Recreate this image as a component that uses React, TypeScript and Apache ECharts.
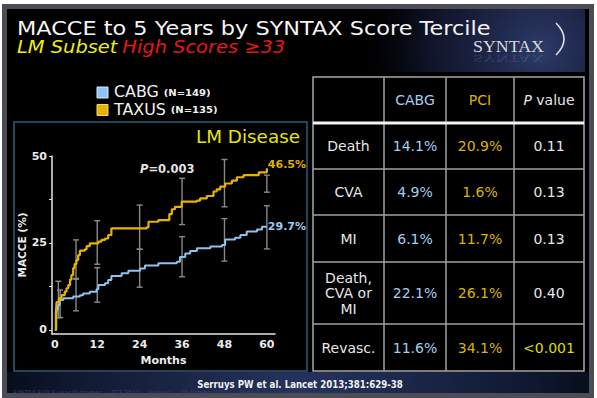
import React, { useEffect, useRef } from 'react';
import * as echarts from 'echarts';

// ---------- data ----------
const monthTicks = [0, 12, 24, 36, 48, 60];
const yTickValues = [0, 12.5, 25, 37.5, 50];
const yLabelValues = [0, 25, 50];

// Kaplan-Meier style curves: [month, MACCE %]
const taxusCurve = [
  [0, 0], [0.3, 5], [0.5, 8], [1.2, 9.1], [1.9, 10], [2.8, 11], [3.3, 12], [3.8, 12.9],
  [4.3, 14.5], [4.7, 15.8], [5.2, 17.8], [5.6, 19], [6.1, 20.1], [6.6, 21.5], [7.1, 22.8],
  [8.5, 23.2], [9, 24.1], [9.9, 24.9], [12.3, 25.4], [13.2, 25.9], [14.2, 26.3], [15.1, 27.3],
  [16, 29.2], [26, 29.5], [26.5, 31.1], [29.3, 31.6], [32.4, 33.3], [33.1, 34.7], [34, 35.4],
  [35.9, 36.9], [40.2, 37.2], [41.1, 37.8], [43, 38.5], [44.9, 39.8], [45.8, 40.4], [46.8, 41.2],
  [48.2, 42.1], [50.1, 42.9], [51.5, 43.9], [53.4, 44.5], [57.7, 45.3], [60, 46.5]
];
const cabgCurve = [
  [0, 0], [0.4, 4], [0.6, 6], [0.9, 7.2], [1.4, 8.6], [2.4, 9.1], [5.2, 9.6], [7.1, 10],
  [8, 10.5], [9.9, 11], [11.8, 11.7], [12.3, 12.9], [14.2, 13.4], [15.1, 14.4], [16, 15.5],
  [18.9, 16.3], [20.8, 17], [24.1, 17.7], [25.5, 18.5], [29.3, 19.2], [34.5, 19.6], [35.4, 21],
  [36.9, 22], [38.3, 22.7], [40.2, 23.5], [44, 24], [47.3, 24.4], [48.2, 26], [51, 26.5],
  [52.5, 27.3], [54.3, 28.3], [57.2, 28.9], [58.6, 29.7], [60, 29.7]
];
// error bars: [month, low, high]
const taxusErr = [
  [1, 3.5, 14], [6, 14.6, 25.9], [12, 18.9, 31.4], [24, 23.2, 35.9],
  [36, 30.3, 43.6], [48, 35.4, 49], [60, 39.6, 44.5]
];
const cabgErr = [
  [1.5, 3.6, 11.5], [6, 5.5, 14.8], [12, 8, 17.9], [24, 12.3, 23.2],
  [36, 15.3, 26.8], [48, 19.8, 32], [60, 23.3, 35.7]
];
const endLabels = ['46.5%', '29.7%'];
const seriesNames = ['CABG', 'TAXUS'];
const seriesN = ['(N=149)', '(N=135)'];
const pValueText = '0.003';

// table
const tableHeader = ['', 'CABG', 'PCI', 'value'];
const tableRows = ['Death', 'CVA', 'MI', 'Death,\nCVA or\nMI', 'Revasc.'];
const cabgValues = ['14.1%', '4.9%', '6.1%', '22.1%', '11.6%'];
const pciValues = ['20.9%', '1.6%', '11.7%', '26.1%', '34.1%'];
const pValues = ['0.11', '0.13', '0.13', '0.40', '<0.001'];

// ---------- layout / style ----------
const FONT = '"DejaVu Sans", Verdana, sans-serif';
const COND = '"DejaVu Sans Condensed", "DejaVu Sans", sans-serif';
const BLUE = '#8fc2ee';
const GOLD = '#e6b400';
const BLUE_TXT = '#a6cdf0';
const GOLD_TXT = '#dcb400';
const WHITE_TXT = '#e6e6e6';
const colEdges = [313, 384, 446, 514, 584];
const rowEdges = [77, 123, 169, 215, 262, 324, 371];

function txt(x: number, y: number, text: string, o: any = {}) {
  return {
    type: 'text',
    x,
    y,
    scaleX: o.scaleX ?? 1,
    z: 10,
    style: {
      text,
      fill: o.fill ?? WHITE_TXT,
      fontSize: o.fontSize ?? 14,
      fontFamily: o.fontFamily ?? FONT,
      fontWeight: o.fontWeight ?? 'normal',
      fontStyle: o.fontStyle ?? 'normal',
      textAlign: o.align ?? 'left',
      align: o.align ?? 'left',
      textVerticalAlign: 'middle',
      verticalAlign: 'middle',
      lineHeight: o.lineHeight,
      rich: o.rich,
      opacity: o.opacity ?? 1,
    },
  };
}

function buildTable(): any[] {
  const els: any[] = [];
  const x0 = colEdges[0], x1 = colEdges[colEdges.length - 1];
  const y0 = rowEdges[0], y1 = rowEdges[rowEdges.length - 1];
  els.push({ type: 'rect', z: 5, shape: { x: x0, y: y0, width: x1 - x0, height: y1 - y0 }, style: { fill: '#000', stroke: '#a8a8a8', lineWidth: 1.5 } });
  colEdges.slice(1, -1).forEach((cx) => {
    els.push({ type: 'line', z: 6, shape: { x1: cx, y1: y0, x2: cx, y2: y1 }, style: { stroke: '#a0a0a0', lineWidth: 1.5 } });
  });
  rowEdges.slice(2, -1).forEach((ry) => {
    els.push({ type: 'line', z: 6, shape: { x1: x0, y1: ry, x2: x1, y2: ry }, style: { stroke: '#a0a0a0', lineWidth: 1.5 } });
  });
  els.push({ type: 'line', z: 7, shape: { x1: x0, y1: rowEdges[1], x2: x1, y2: rowEdges[1] }, style: { stroke: '#f4f4f4', lineWidth: 3 } });

  const cx = (i: number) => (colEdges[i] + colEdges[i + 1]) / 2;
  const cy = (j: number) => (rowEdges[j] + rowEdges[j + 1]) / 2;
  // header
  els.push(txt(cx(1), cy(0), tableHeader[1], { align: 'center', fill: BLUE_TXT }));
  els.push(txt(cx(2), cy(0), tableHeader[2], { align: 'center', fill: GOLD_TXT }));
  els.push(txt(cx(3), cy(0), '{i|P} {n|' + tableHeader[3] + '}', {
    align: 'center',
    rich: {
      i: { fontStyle: 'italic', fontSize: 14, fontFamily: FONT, fontWeight: 'normal', fill: WHITE_TXT },
      n: { fontStyle: 'normal', fontSize: 14, fontFamily: FONT, fontWeight: 'normal', fill: WHITE_TXT },
    },
  }));
  tableRows.forEach((r, j) => {
    els.push(txt(cx(0), cy(j + 1), r, { align: 'center', lineHeight: 15.5 }));
    els.push(txt(cx(1), cy(j + 1), cabgValues[j], { align: 'center', fill: BLUE_TXT }));
    els.push(txt(cx(2), cy(j + 1), pciValues[j], { align: 'center', fill: GOLD_TXT }));
    els.push(txt(cx(3), cy(j + 1), pValues[j], { align: 'center', fill: pValues[j].startsWith('<') ? '#dcdc00' : WHITE_TXT }));
  });
  return els;
}

function buildGraphics(): any[] {
  const g: any[] = [];
  // page + frame
  g.push({ type: 'rect', z: -20, shape: { x: 0, y: 0, width: 597, height: 398 }, style: { fill: '#ffffff' } });
  g.push({ type: 'rect', z: -19, shape: { x: 4.5, y: 6.5, width: 587, height: 389 }, style: { fill: '#000000', stroke: '#4c4c56', lineWidth: 5 } });
  g.push({
    type: 'rect', z: -18, shape: { x: 300, y: 9, width: 285, height: 63 },
    style: { fill: { type: 'radial', x: 540, y: 50, r: 190, global: true, colorStops: [{ offset: 0, color: 'rgba(48,62,112,0.95)' }, { offset: 0.6, color: 'rgba(25,32,65,0.6)' }, { offset: 1, color: 'rgba(0,0,0,0)' }] } },
  });
  g.push({
    type: 'rect', z: -18, shape: { x: 7, y: 372, width: 582, height: 21 },
    style: { fill: { type: 'radial', x: 300, y: 400, r: 330, global: true, colorStops: [{ offset: 0, color: '#26345f' }, { offset: 0.7, color: '#101830' }, { offset: 1, color: '#05070f' }] } },
  });

  // title
  g.push(txt(17, 28, 'MACCE to 5 Years by SYNTAX Score Tercile', { fontSize: 20, scaleX: 1.12, fill: '#f4f4f4' }));
  g.push(txt(17, 47, '{y|LM Subset} {r|High Scores ≥33}', {
    scaleX: 1.08,
    rich: {
      y: { fontSize: 18, fontFamily: FONT, fontStyle: 'italic', fontWeight: 'normal', fill: '#eeee10' },
      r: { fontSize: 18, fontFamily: FONT, fontStyle: 'italic', fontWeight: 'normal', fill: '#e81818' },
    },
  }));
  // SYNTAX logo
  g.push(txt(473, 46, 'SYNTAX', { fontSize: 17, scaleX: 1.05, fontFamily: '"Liberation Serif", serif', fill: '#d8d8d8' }));
  g.push({
    type: 'text', x: 473, y: 59, scaleX: 1.05, scaleY: -0.6, z: 9,
    style: { text: 'SYNTAX', fontSize: 17, fontFamily: '"Liberation Serif", serif', fill: 'rgba(200,200,220,0.16)', verticalAlign: 'middle', textVerticalAlign: 'middle' },
  });
  g.push({ type: 'bezierCurve', z: 10, shape: { x1: 556, y1: 23, x2: 556, y2: 55, cpx1: 572, cpy1: 39 }, style: { stroke: '#e0e0e0', lineWidth: 1.6, fill: null } });

  // chart panel
  g.push({ type: 'rect', z: -5, shape: { x: 14, y: 122, width: 293, height: 249 }, style: { fill: '#000', stroke: '#2f5c74', lineWidth: 1.5 } });

  // legend
  const legColors = [BLUE, GOLD];
  const legBorder = ['#d8ecff', '#f4d870'];
  [0, 1].forEach((i) => {
    const yc = 92.5 + i * 17.5;
    g.push({ type: 'rect', z: 10, shape: { x: 97, y: yc - 5.5, width: 11, height: 11 }, style: { fill: legColors[i], stroke: legBorder[i], lineWidth: 1 } });
    const main = seriesNames[i];
    g.push(txt(114, yc, '{a|' + main + '} {b|' + seriesN[i] + '}', {
      scaleX: 1.06,
      rich: {
        a: { fontSize: 15, fontFamily: FONT, fontWeight: 'normal', fontStyle: 'normal', fill: '#f0f0f0' },
        b: { fontSize: 9.5, fontFamily: FONT, fontWeight: 'bold', fontStyle: 'normal', fill: '#f0f0f0' },
      },
    }));
  });

  // LM Disease
  g.push(txt(300, 137, 'LM Disease', { fontSize: 17, scaleX: 1.08, align: 'right', fill: '#e6e600' }));
  // P value
  g.push(txt(140, 169, '{i|P}{n|=' + pValueText + '}', {
    rich: {
      i: { fontSize: 11.5, fontFamily: FONT, fontWeight: 'bold', fontStyle: 'italic', fill: '#e4e4e4' },
      n: { fontSize: 11.5, fontFamily: FONT, fontWeight: 'bold', fontStyle: 'normal', fill: '#e4e4e4' },
    },
  }));

  // footer
  g.push(txt(300, 384.5, 'Serruys PW et al. Lancet 2013;381:629-38', { fontSize: 10, fontFamily: COND, fontWeight: 'bold', align: 'center', fill: '#f0f0f0', scaleX: 0.96 }));
  g.push(txt(13, 393, 'SYNTAX EVD 5-year Outcomes  -  TCT 2012  -  Serruys  -  28 October 2012  -  Slide 7', { fontSize: 6.5, fontFamily: COND, fill: '#3a4468' }));

  return g.concat(buildTable());
}

const errRender = (color: string) => (params: any, api: any) => {
  const x = api.value(0), lo = api.value(1), hi = api.value(2);
  const a = api.coord([x, lo]);
  const b = api.coord([x, hi]);
  const w = 3;
  const style = { stroke: color, lineWidth: 1.4, fill: null };
  return {
    type: 'group',
    children: [
      { type: 'line', shape: { x1: a[0], y1: a[1], x2: b[0], y2: b[1] }, style },
      { type: 'line', shape: { x1: a[0] - w, y1: a[1], x2: a[0] + w, y2: a[1] }, style },
      { type: 'line', shape: { x1: b[0] - w, y1: b[1], x2: b[0] + w, y2: b[1] }, style },
    ],
  };
};

export default function App() {
  const ref = useRef<HTMLDivElement>(null);
  useEffect(() => {
    if (!ref.current) return;
    const chart = echarts.init(ref.current, null, { renderer: 'svg' });
    const axisText = { color: '#ececec', fontFamily: FONT, fontWeight: 'bold' };
    chart.setOption({
      animation: false,
      backgroundColor: '#ffffff',
      graphic: { elements: buildGraphics() },
      grid: { left: 52, top: 156, width: 223, height: 178 },
      xAxis: {
        type: 'value', min: -0.8, max: 62.3,
        axisLine: { show: true, onZero: false, lineStyle: { color: '#e6e6e6', width: 1.5 } },
        axisTick: { show: false },
        splitLine: { show: false },
        axisLabel: { customValues: monthTicks, ...axisText, fontSize: 11, margin: 5 },
        name: 'Months', nameLocation: 'middle', nameGap: 21,
        nameTextStyle: { ...axisText, fontSize: 11 },
      },
      yAxis: {
        type: 'value', min: -1.15, max: 50,
        axisLine: { show: true, onZero: false, lineStyle: { color: '#e6e6e6', width: 1.5 } },
        axisTick: { show: true, customValues: yTickValues, length: 3, lineStyle: { color: '#e6e6e6', width: 1 } },
        splitLine: { show: false },
        axisLabel: { customValues: yLabelValues, ...axisText, fontSize: 11, margin: 5 },
        name: 'MACCE (%)', nameLocation: 'middle', nameRotate: 90, nameGap: 23,
        nameTextStyle: { ...axisText, fontSize: 10.5 },
      },
      series: [
        { type: 'custom', name: 'taxusErr', data: taxusErr, renderItem: errRender('#8a8a8a'), encode: { x: 0, y: [1, 2] }, z: 1, clip: false },
        { type: 'custom', name: 'cabgErr', data: cabgErr, renderItem: errRender('#8a8a8a'), encode: { x: 0, y: [1, 2] }, z: 1, clip: false },
        {
          type: 'line', name: seriesNames[0], data: cabgCurve, step: 'end', symbol: 'none', z: 3,
          lineStyle: { color: BLUE, width: 2 },
          endLabel: { show: true, formatter: endLabels[1], color: '#9ccaf0', fontSize: 11, fontWeight: 'bold', fontFamily: FONT, distance: 1 },
        },
        {
          type: 'line', name: seriesNames[1], data: taxusCurve, step: 'end', symbol: 'none', z: 4,
          lineStyle: { color: GOLD, width: 2.2 },
          endLabel: { show: true, formatter: endLabels[0], color: '#e0b000', fontSize: 11, fontWeight: 'bold', fontFamily: FONT, distance: 1, offset: [0, -4] },
        },
      ],
    });
    return () => chart.dispose();
  }, []);
  return <div ref={ref} style={{ position: 'fixed', left: 0, top: 0, width: 597, height: 398 }} />;
}
